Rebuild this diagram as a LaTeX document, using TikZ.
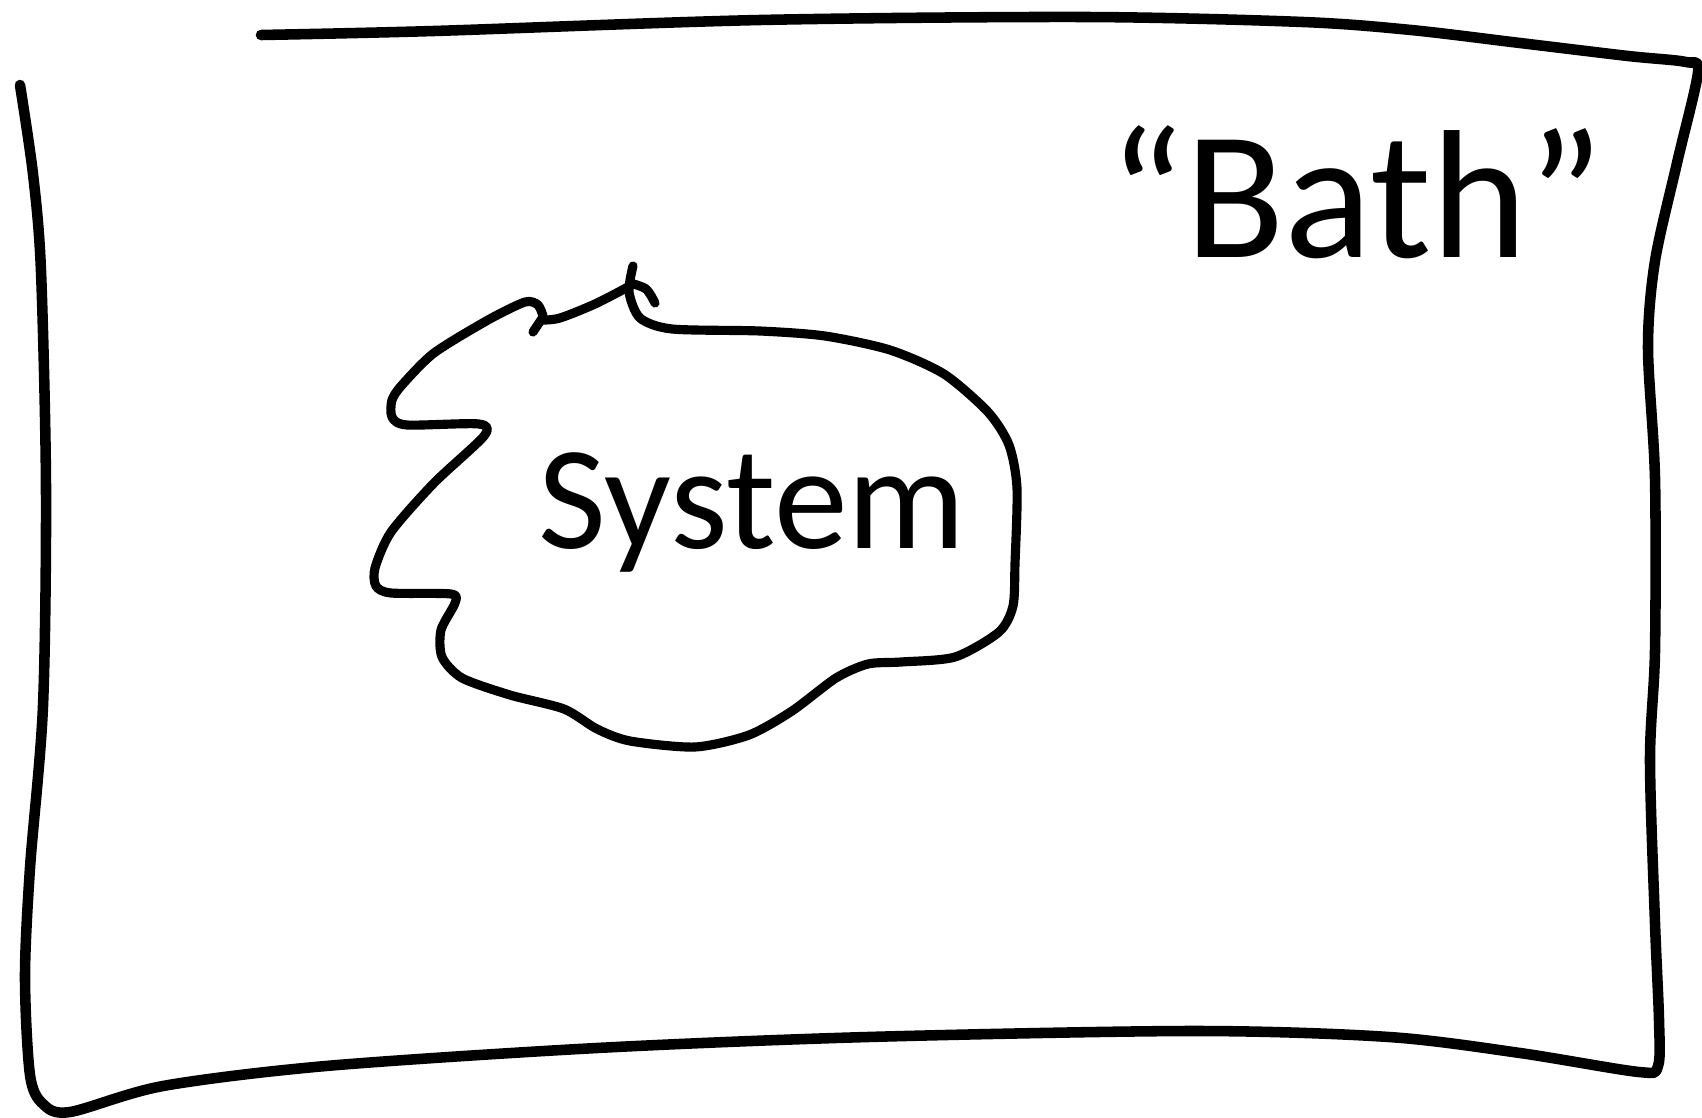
\documentclass[tikz,border=0pt]{standalone}
\usepackage{fontspec}
\setmainfont{Carlito}
\tikzset{
	pen/.style={line width=3pt, line cap=round, line join=round},
	thinpen/.style={line width=2.6pt, line cap=round, line join=round},
	hand/.style={inner sep=0pt, font=\fontsize{42}{42}\selectfont}
}
\begin{document}
\begin{tikzpicture}[x=0.01cm,y=-0.01cm]
		\useasboundingbox (0,0) rectangle (1702,1118);
		% the bath
		\draw[pen] plot[smooth, tension=0.5] coordinates {(261,35) (434,31) (760,20) (1085,17) (1303,22) (1411,30) (1520,43) (1628,56) (1686,62) (1698,72)
			(1677,163) (1655,261) (1648,347) (1655,478) (1655,651) (1650,760) (1655,923) (1659,1020) (1658,1066)
			(1639,1072) (1520,1053) (1389,1037) (1194,1031) (868,1037) (597,1048) (326,1066) (163,1086) (70,1112) (43,1104)
			(30,1075) (25,977) (30,868) (43,706) (46,488) (41,271) (33,174) (20,85)};
		% the system
		\draw[thinpen] plot[smooth, tension=0.45] coordinates {(633,266) (629,292) (640,318) (672,329) (760,331) (825,336) (890,350) (944,374)
			(988,412) (1009,445) (1017,488) (1015,564) (1013,606) (999,632) (955,657) (901,662) (868,664) (836,678)
			(792,711) (749,735) (695,747) (630,741) (597,729) (564,709) (510,695) (462,678) (442,657) (441,630) (455,603)
			(451,594) (391,593) (376,586) (375,568) (391,532) (434,483) (484,436) (479,424) (407,425) (392,417)
			(392,400) (402,385) (434,353) (488,320) (525,302) (538,305) (543,316)};
		\draw[thinpen] (543,317) -- (533,332);
		\draw[thinpen] plot[smooth] coordinates {(543,320) (560,318) (595,304) (628,287)};
		\draw[thinpen] plot[smooth] coordinates {(630,283) (646,289) (655,303)};
		\node[hand, anchor=base west] (system) at (538,548) {System};
		\node[hand, anchor=base west, font=\fontsize{52}{52}\selectfont] (bath) at (1108,257) {“Bath”};
	\end{tikzpicture}
\end{document}
